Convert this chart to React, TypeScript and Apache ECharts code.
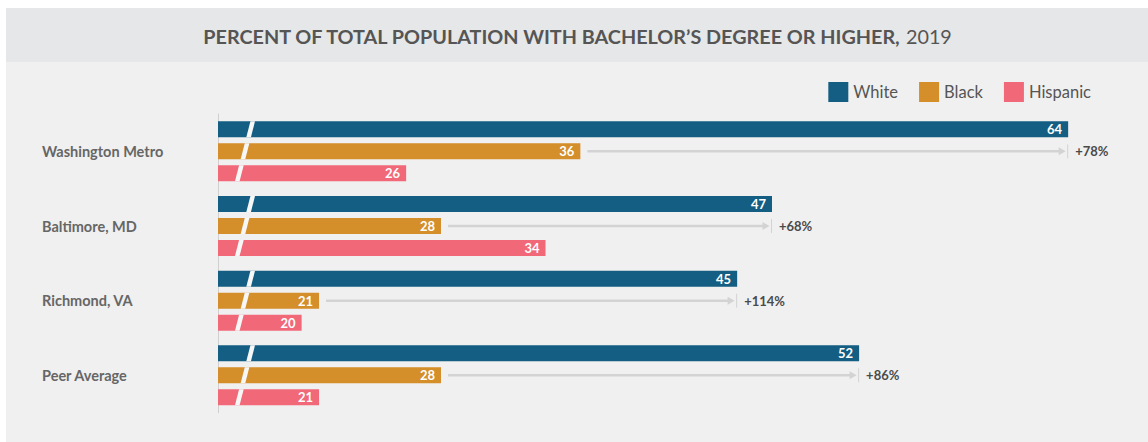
import React, { useEffect, useRef } from "react";
import * as echarts from "echarts";

const categories = ["Washington Metro", "Baltimore, MD", "Richmond, VA", "Peer Average"];
const whiteValues = [64, 47, 45, 52];
const blackValues = [36, 28, 21, 28];
const hispanicValues = [26, 34, 20, 21];
const gapLabels = ["+78%", "+68%", "+114%", "+86%"];
const seriesNames = ["White", "Black", "Hispanic"];

const AXIS_MIN = 15.2;
const AXIS_MAX = 66;
const BREAK_VALUE = 16.75;

const COLORS = ["#135e82", "#d48e2a", "#f16879"];
const FONT = "Lato, 'Noto Sans', sans-serif";

export default function App() {
  const ref = useRef<HTMLDivElement>(null);

  useEffect(() => {
    if (!ref.current) return;
    const chart = echarts.init(ref.current, undefined, { renderer: "svg" });

    const barLabel = {
      show: true,
      position: "insideRight",
      distance: 6,
      color: "#ffffff",
      fontSize: 13,
      fontWeight: "bold",
      fontFamily: FONT,
    };

    const barHeight = 16;
    const pitch = 22;

    const breakRender = (params: any, api: any) => {
      const idx = params.dataIndex;
      const c = api.coord([BREAK_VALUE, idx]);
      const xc = c[0];
      const yc = c[1];
      const slope = 15.7 / 61;
      const half = 2.3;
      const children: any[] = [];
      for (let k = -1; k <= 1; k++) {
        const y0 = yc + k * pitch - barHeight / 2;
        const y1 = yc + k * pitch + barHeight / 2;
        const x0 = xc - (y0 - yc) * slope;
        const x1 = xc - (y1 - yc) * slope;
        children.push({
          type: "polygon",
          shape: {
            points: [
              [x0 - half, y0],
              [x0 + half, y0],
              [x1 + half, y1],
              [x1 - half, y1],
            ],
          },
          style: { fill: "#f7f7f7" },
        });
      }
      return { type: "group", children };
    };

    const arrowRender = (params: any, api: any) => {
      const idx = params.dataIndex;
      const b = api.coord([blackValues[idx], idx]);
      const w = api.coord([whiteValues[idx], idx]);
      const y = b[1];
      const xs = b[0] + 7;
      const tip = w[0] - 2.5;
      const headLen = 7;
      const stroke = "#d3d3d3";
      return {
        type: "group",
        children: [
          {
            type: "line",
            shape: { x1: xs, y1: y, x2: tip - headLen + 1, y2: y },
            style: { stroke, lineWidth: 2.5 },
          },
          {
            type: "polygon",
            shape: {
              points: [
                [tip - headLen, y - 4],
                [tip, y],
                [tip - headLen, y + 4],
              ],
            },
            style: { fill: stroke },
          },
          {
            type: "line",
            shape: { x1: w[0] - 0.5, y1: y - 7, x2: w[0] - 0.5, y2: y + 7 },
            style: { stroke, lineWidth: 1 },
          },
          {
            type: "text",
            x: w[0] + 7,
            y: y,
            style: {
              text: gapLabels[idx],
              fill: "#4a4a4a",
              font: `bold 13px ${FONT}`,
              verticalAlign: "middle",
              align: "left",
            },
          },
        ],
      };
    };

    const option: any = {
      animation: false,
      backgroundColor: "#f0f0f0",
      graphic: [
        {
          type: "rect",
          left: 0,
          top: 0,
          z: -10,
          shape: { width: 1142, height: 54 },
          style: { fill: "#e6e7e8" },
        },
      ],
      title: {
        left: "center",
        top: 13,
        text: "{b|PERCENT OF TOTAL POPULATION WITH BACHELOR\u2019S DEGREE OR HIGHER,} {n|2019}",
        textStyle: {
          rich: {
            b: { fontFamily: FONT, fontWeight: "bold", fontSize: 19.8, color: "#555555" },
            n: { fontFamily: FONT, fontWeight: "normal", fontSize: 19.8, color: "#555555" },
          },
        },
      },
      legend: {
        data: seriesNames,
        right: 52,
        top: 69,
        itemWidth: 20,
        itemHeight: 20,
        itemGap: 21,
        icon: "rect",
        textStyle: { fontFamily: FONT, fontSize: 16.5, color: "#555555" },
      },
      grid: { left: 212, top: 106, width: 885, height: 298.7, containLabel: false },
      xAxis: {
        type: "value",
        min: AXIS_MIN,
        max: AXIS_MAX,
        show: false,
        splitLine: { show: false },
      },
      yAxis: {
        type: "category",
        data: categories,
        inverse: true,
        axisLine: { show: true, lineStyle: { color: "#d0d0d0", width: 1 } },
        axisTick: { show: false },
        axisLabel: {
          align: "left",
          margin: 176,
          fontFamily: FONT,
          fontSize: 14.5,
          fontWeight: "bold",
          color: "#666666",
        },
      },
      series: [
        {
          name: "White",
          type: "bar",
          data: whiteValues,
          barWidth: barHeight,
          barGap: "37.5%",
          itemStyle: { color: COLORS[0] },
          label: barLabel,
        },
        {
          name: "Black",
          type: "bar",
          data: blackValues,
          barWidth: barHeight,
          barGap: "37.5%",
          itemStyle: { color: COLORS[1] },
          label: barLabel,
        },
        {
          name: "Hispanic",
          type: "bar",
          data: hispanicValues,
          barWidth: barHeight,
          barGap: "37.5%",
          itemStyle: { color: COLORS[2] },
          label: barLabel,
        },
        {
          name: "break",
          type: "custom",
          data: categories.map((_, i) => [AXIS_MIN, i]),
          encode: { x: 0, y: 1 },
          renderItem: breakRender,
          z: 5,
          silent: true,
        },
        {
          name: "gap",
          type: "custom",
          data: categories.map((_, i) => [AXIS_MIN, i]),
          encode: { x: 0, y: 1 },
          renderItem: arrowRender,
          z: 5,
          silent: true,
        },
      ],
    };

    chart.setOption(option);
    return () => chart.dispose();
  }, []);

  return (
    <div
      ref={ref}
      style={{ position: "absolute", left: 6, top: 8, width: 1142, height: 434 }}
    />
  );
}
